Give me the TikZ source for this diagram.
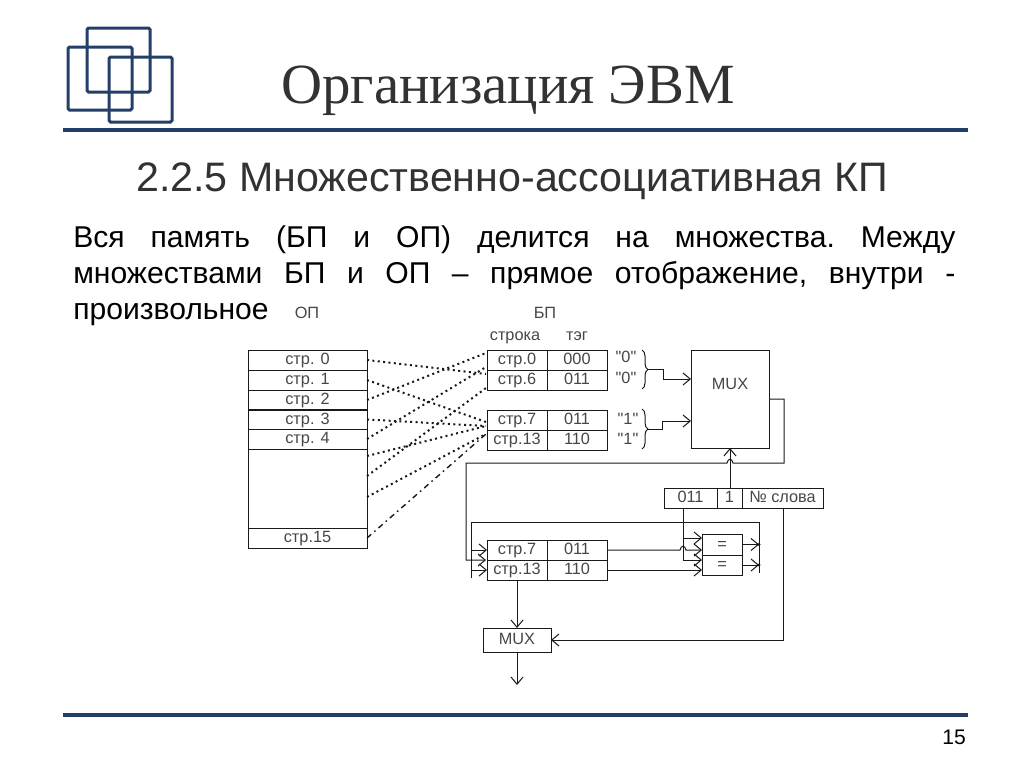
\documentclass[tikz,border=0pt]{standalone}
\usepackage{fontspec}
\setmainfont{Liberation Sans}
\newfontfamily\titlefont{Liberation Serif}
\newfontfamily\diagfont{Liberation Sans}
\usepackage{tikz}
\usetikzlibrary{arrows.meta, decorations.pathreplacing}
\definecolor{frameblue}{RGB}{35, 62, 105}
\definecolor{titlegray}{RGB}{50, 50, 50}
\definecolor{cellgray}{RGB}{70, 70, 70}
\tikzset{
  cell/.style={draw=black!90, line width=0.25mm, inner sep=0pt, outer sep=0pt, text=cellgray, font=\diagfont\fontsize{11.6}{13}\selectfont, text height=7pt, text depth=0pt, minimum height=5mm},
  oprow/.style={cell, minimum width=29.75mm},
  namecol/.style={cell, minimum width=15mm},
  tagcol/.style={cell, minimum width=15mm},
  caption/.style={inner sep=0pt, text=cellgray, font=\diagfont\fontsize{11.6}{13}\selectfont, text height=7pt, text depth=0pt},
  wire/.style={draw=black!90, line width=0.25mm},
  arw/.style={wire, -{Straight Barb[length=1.8mm, width=3mm]}},
  linkdot/.style={draw=black!90, line width=0.5mm, dash pattern=on 0.5mm off 0.85mm},
  linkdash/.style={draw=black!90, line width=0.35mm, dash pattern=on 1.4mm off 1mm on 0.4mm off 1mm},
  logo/.style={draw=frameblue, line width=0.75mm, rounded corners=0.4mm},
  rule/.style={draw=frameblue, line width=1mm},
}
\begin{document}
\begin{tikzpicture}[x=0.25mm, y=-0.25mm]
  \useasboundingbox (0, 0) rectangle (1024, 768);
  % frame
  \draw[logo] (87, 28) rectangle (150, 92);
  \draw[logo] (68, 47) rectangle (132, 110);
  \draw[logo] (109, 57) rectangle (172, 122);
  \draw[rule] (63, 130) -- (968, 130);
  \draw[rule] (63, 715) -- (968, 715);
  \node[inner sep=0pt, font=\fontsize{15}{18}\selectfont] (pagenum) at (954, 737) {15};
  \node[inner sep=0pt, text=titlegray, font=\titlefont\fontsize{40.4}{46}\selectfont] (title) at (508, 91) {Организация ЭВМ};
  \node[inner sep=0pt, text=titlegray, font=\fontsize{29.3}{34}\selectfont] (heading) at (512, 181) {2.2.5 Множественно-ассоциативная КП};
  \node[inner sep=0pt, anchor=north west, text width=220.5mm, align=justify, font=\fontsize{21.4}{25.6}\selectfont\frenchspacing] (body) at (73, 225)
    {Вся память (БП и ОП) делится на множества. Между\linebreak множествами БП и ОП – прямое отображение, внутри -\linebreak произвольное};

  % OP column
  \node[caption] (opcap) at (307, 314) {ОП};
  \node[oprow] (op0) at (307.5, 360) {стр. 0};
  \node[oprow] (op1) at (307.5, 380) {стр. 1};
  \node[oprow] (op2) at (307.5, 400) {стр. 2};
  \node[oprow] (op3) at (307.5, 419.5) {стр. 3};
  \node[oprow] (op4) at (307.5, 439) {стр. 4};
  \node[oprow, minimum height=19.75mm] (opgap) at (307.5, 488.5) {};
  \node[oprow] (op15) at (307.5, 538) {стр.15};

  % BP sets
  \node[caption] (bpcap) at (545, 314) {БП};
  \node[caption] (linecap) at (515, 336) {строка};
  \node[caption] (tagcap) at (577, 336) {тэг};
  \node[namecol] (bp0) at (517, 360) {стр.0};
  \node[tagcol] (tag0) at (577, 360) {000};
  \node[namecol] (bp6) at (517, 380) {стр.6};
  \node[tagcol] (tag6) at (577, 380) {011};
  \node[namecol] (bp7) at (517, 420) {стр.7};
  \node[tagcol] (tag7) at (577, 420) {011};
  \node[namecol] (bp13) at (517, 440) {стр.13};
  \node[tagcol] (tag13) at (577, 440) {110};
  \node[caption] (zeroa) at (626, 358) {"0"};
  \node[caption] (zerob) at (626, 379) {"0"};
  \node[caption] (onea) at (628, 420) {"1"};
  \node[caption] (oneb) at (628, 440) {"1"};

  % mapping between OP and BP
  \coordinate (in0) at (486, 353);
  \coordinate (in0b) at (486, 367);
  \coordinate (in6) at (486, 374);
  \coordinate (in6b) at (486, 388);
  \coordinate (in7) at (486, 422);
  \coordinate (in7b) at (486, 426);
  \coordinate (in13) at (486, 434);
  \coordinate (gap0) at (367, 456);
  \coordinate (gap1) at (367, 476);
  \coordinate (gap2) at (367, 497);
  \draw[linkdot] (op0.east) -- (in6);
  \draw[linkdot] (op1.east) -- (in7);
  \draw[linkdot] (op2.east) -- (in0);
  \draw[linkdot] (op3.east) -- (in7b);
  \draw[linkdot] (op4.east) -- (in0b);
  \draw[linkdot] (gap0) -- (in7b);
  \draw[linkdot] (gap1) -- (in6b);
  \draw[linkdot] (gap2) -- (in13);
  \draw[linkdash] (op15.east) -- (in13);

  % big MUX and address
  \node[cell, minimum width=19.5mm, minimum height=24.5mm] (muxbig) at (730, 399) {};
  \node[caption] (muxbiglabel) at (730, 385) {MUX};
  \node[cell, minimum width=13.25mm] (addrtag) at (690.5, 498) {011};
  \node[cell, minimum width=6.25mm] (addrset) at (729.5, 498) {1};
  \node[cell, minimum width=20.25mm] (addrword) at (782.5, 498) {№ слова};
  \coordinate (bracea) at (642, 350);
  \coordinate (braceb) at (642, 389);
  \coordinate (bracec) at (642, 409);
  \coordinate (braced) at (642, 449);
  \coordinate (tipa) at (648, 369.5);
  \coordinate (tipb) at (648, 429);
  \coordinate (muxina) at (691, 379);
  \coordinate (muxinb) at (691, 421);
  \draw[wire, decorate, decoration={brace, amplitude=1.5mm}] (bracea) -- (braceb);
  \draw[wire, decorate, decoration={brace, amplitude=1.5mm}] (bracec) -- (braced);
  \draw[arw] (tipa) -- (663, 369.5) -- (663, 379) -- (muxina);
  \draw[arw] (tipb) -- (662, 429) -- (662, 421) -- (muxinb);
  \draw[arw] (addrset.north -| muxbig.south) -- (muxbig.south);

  % tag compare
  \node[namecol] (cmp7) at (517, 550) {стр.7};
  \node[tagcol] (cmptag7) at (577, 550) {011};
  \node[namecol] (cmp13) at (517, 570) {стр.13};
  \node[tagcol] (cmptag13) at (577, 570) {110};
  \node[cell, minimum width=10mm, minimum height=5.25mm] (eqa) at (722, 544.5) {=};
  \node[cell, minimum width=10mm] (eqb) at (722, 565) {=};
  \coordinate (loopin) at (486, 560);
  \draw[arw] (muxbig.east) -- (784, 399) -- (784, 463) -- (733, 463) .. controls (732, 458) and (728, 458) .. (727, 463) -- (466, 463) -- (466, 560) -- (loopin);
  \coordinate (bustop) at (471, 522);
  \coordinate (busleft) at (471, 578);
  \coordinate (busright) at (759, 573);
  \coordinate (busa) at (471, 550);
  \coordinate (busb) at (471, 570);
  \coordinate (outa) at (759, 544.5);
  \coordinate (outb) at (759, 565);
  \draw[wire] (busleft) -- (bustop) -- (759, 522) -- (busright);
  \draw[arw] (busa) -- (cmp7.west);
  \draw[arw] (busb) -- (cmp13.west);
  \draw[arw] (eqa.east) -- (outa);
  \draw[arw] (eqb.east) -- (outb);
  \fill[black!90] (outa) circle (0.4mm);
  \fill[black!90] (outb) circle (0.4mm);
  \coordinate (tagtap) at (683, 508);
  \coordinate (tagina) at (702, 538);
  \coordinate (taginb) at (702, 560);
  \draw[arw] (tagtap) -- (683, 538) -- (tagina);
  \draw[arw] (683, 538) -- (683, 560) -- (taginb);
  \coordinate (cmpina) at (702, 550);
  \coordinate (cmpinb) at (702, 570);
  \draw[arw] (cmptag7.east) -- (680, 550) .. controls (681, 545) and (685, 545) .. (686, 550) -- (cmpina);
  \draw[arw] (cmptag13.east) -- (cmpinb);

  % output MUX
  \node[cell, minimum width=17mm, minimum height=6mm] (muxout) at (517, 640) {MUX};
  \coordinate (wordtap) at (783, 508);
  \coordinate (dataout) at (517, 685);
  \draw[arw] (cmp13.south) -- (muxout.north);
  \draw[arw] (muxout.south) -- (dataout);
  \draw[arw] (wordtap) -- (783, 640) -- (muxout.east);
\end{tikzpicture}
\end{document}
